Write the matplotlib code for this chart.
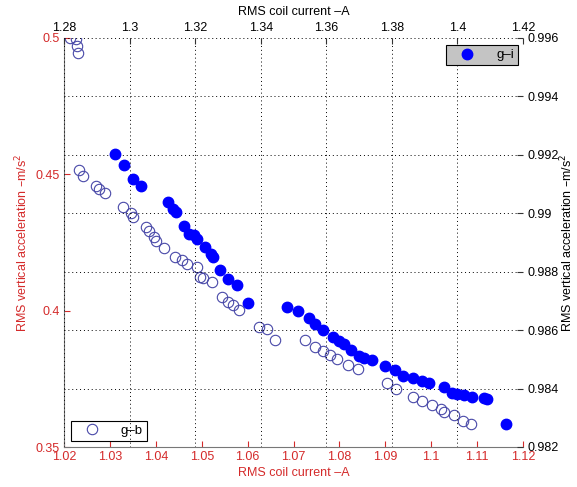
import numpy as np
import matplotlib
matplotlib.use("Agg")
import matplotlib.pyplot as plt

plt.rcParams['font.family'] = ['Liberation Sans', 'DejaVu Sans']
plt.rcParams['font.size'] = 9

# g-b : open circles, bottom/left axes
gb_current = [1.0212, 1.0226, 1.0229, 1.0230, 1.0233, 1.0242, 1.0269, 1.0276, 1.0290,
              1.0329, 1.0345, 1.0350, 1.0378, 1.0385, 1.0397, 1.0401, 1.0417, 1.0441,
              1.0457, 1.0469, 1.0489, 1.0496, 1.0502, 1.0522, 1.0544, 1.0557, 1.0568,
              1.0581, 1.0624, 1.0643, 1.0660, 1.0724, 1.0747, 1.0765, 1.0780, 1.0795,
              1.0819, 1.0841, 1.0904, 1.0924, 1.0961, 1.0980, 1.1001, 1.1022, 1.1027,
              1.1049, 1.1070, 1.1087]
gb_accel = [0.5001, 0.4996, 0.4972, 0.4944, 0.4516, 0.4495, 0.4458, 0.4445, 0.4433,
            0.4381, 0.4360, 0.4344, 0.4307, 0.4293, 0.4271, 0.4257, 0.4231, 0.4198,
            0.4186, 0.4171, 0.4160, 0.4125, 0.4120, 0.4105, 0.4051, 0.4033, 0.4021,
            0.4001, 0.3939, 0.3934, 0.3894, 0.3891, 0.3867, 0.3852, 0.3836, 0.3824,
            0.3800, 0.3785, 0.3734, 0.3714, 0.3682, 0.3670, 0.3653, 0.3638, 0.3630,
            0.3617, 0.3596, 0.3584]

# g-i : filled circles, top/right axes
gi_current = [1.2956, 1.2983, 1.3011, 1.3034, 1.3117, 1.3133, 1.3142, 1.3165, 1.3180,
              1.3196, 1.3207, 1.3229, 1.3248, 1.3254, 1.3277, 1.3301, 1.3328, 1.3360,
              1.3481, 1.3515, 1.3547, 1.3565, 1.3590, 1.3620, 1.3640, 1.3655, 1.3676,
              1.3699, 1.3715, 1.3740, 1.3778, 1.3810, 1.3835, 1.3863, 1.3891, 1.3913,
              1.3958, 1.3983, 1.3999, 1.4019, 1.4043, 1.4081, 1.4089, 1.4149]
gi_accel = [0.99202, 0.99166, 0.99118, 0.99093, 0.99040, 0.99014, 0.99003, 0.98958,
            0.98929, 0.98926, 0.98911, 0.98884, 0.98861, 0.98851, 0.98806, 0.98774,
            0.98753, 0.98692, 0.98680, 0.98666, 0.98641, 0.98621, 0.98599, 0.98575,
            0.98562, 0.98554, 0.98532, 0.98513, 0.98504, 0.98498, 0.98477, 0.98464,
            0.98444, 0.98437, 0.98427, 0.98418, 0.98404, 0.98384, 0.98382, 0.98378,
            0.98372, 0.98367, 0.98365, 0.98278]

bottom_ticks = [1.02, 1.03, 1.04, 1.05, 1.06, 1.07, 1.08, 1.09, 1.1, 1.11, 1.12]
left_ticks = [0.35, 0.4, 0.45, 0.5]
top_ticks = [1.28, 1.3, 1.32, 1.34, 1.36, 1.38, 1.4, 1.42]
right_ticks = [0.982, 0.984, 0.986, 0.988, 0.99, 0.992, 0.994, 0.996]

red = '#d42a2a'
xlabel = 'RMS coil current \u2013A'
ylabel = 'RMS vertical acceleration \u2013m/s$^2$'

fig = plt.figure(figsize=(5.77, 4.87), dpi=100)
pos = [64 / 577, 1 - 447 / 487, 459 / 577, 409 / 487]
ax1 = fig.add_axes(pos)
ax2 = fig.add_axes(pos, frameon=False)

ax1.plot(gb_current, gb_accel, 'o', mfc='none', mec='#4848a8', mew=0.8, ms=7.5, label='g\u2013b')
ax1.set_xlim(1.02, 1.12)
ax1.set_ylim(0.35, 0.5)
ax1.set_xticks(bottom_ticks)
ax1.set_xticklabels(['1.02', '1.03', '1.04', '1.05', '1.06', '1.07', '1.08', '1.09', '1.1', '1.11', '1.12'])
ax1.set_yticks(left_ticks)
ax1.set_yticklabels(['0.35', '0.4', '0.45', '0.5'])
ax1.tick_params(direction='in', length=4, colors=red, labelcolor=red, pad=3)
ax1.set_xlabel(xlabel, color=red, labelpad=3)
ax1.set_ylabel(ylabel, color=red, labelpad=4)
for s in ['top', 'right']:
    ax1.spines[s].set_visible(False)
for s in ['left', 'bottom']:
    ax1.spines[s].set_color('#777777')
leg1 = ax1.legend(loc='lower left', bbox_to_anchor=(0.0146, 0.0154), numpoints=1,
                  fancybox=False, edgecolor='black', framealpha=1, borderaxespad=0,
                  handlelength=2.6, handletextpad=0.9, borderpad=0.3, fontsize=9.5)
leg1.get_frame().set_linewidth(0.8)

ax2.plot(gi_current, gi_accel, 'o', color='#0000ff', ms=7.5, label='g\u2013i')
ax2.set_xlim(1.28, 1.42)
ax2.set_ylim(0.982, 0.996)
ax2.xaxis.tick_top()
ax2.xaxis.set_label_position('top')
ax2.yaxis.tick_right()
ax2.set_xticks(top_ticks)
ax2.set_xticklabels(['1.28', '1.3', '1.32', '1.34', '1.36', '1.38', '1.4', '1.42'])
ax2.set_yticks(right_ticks)
ax2.set_yticklabels(['0.982', '0.984', '0.986', '0.988', '0.99', '0.992', '0.994', '0.996'])
ax2.tick_params(direction='in', length=4, colors='#333333', labelcolor='black', pad=3)
ax2.grid(True, linestyle=(0, (1, 3)), color='black', linewidth=0.7)
ax2.set_xlabel(xlabel, labelpad=5)
# right label sits at the very edge of the figure, kept just inside it
fig.text(567 / 577, 1 - 242.5 / 487, ylabel, rotation=90, ha='center', va='center')
ax2.spines['top'].set_visible(True)
ax2.spines['right'].set_visible(True)
ax2.spines['top'].set_color('#333333')
ax2.spines['right'].set_color('#333333')
leg2 = ax2.legend(loc='upper right', bbox_to_anchor=(0.989, 0.983), numpoints=1,
                  fancybox=False, edgecolor='black', facecolor='#c4c4c4', framealpha=1,
                  borderaxespad=0, handlelength=2.6, handletextpad=0.9, borderpad=0.3,
                  fontsize=9.5)
leg2.get_frame().set_linewidth(0.8)

fig.savefig('out.png', dpi=100)
